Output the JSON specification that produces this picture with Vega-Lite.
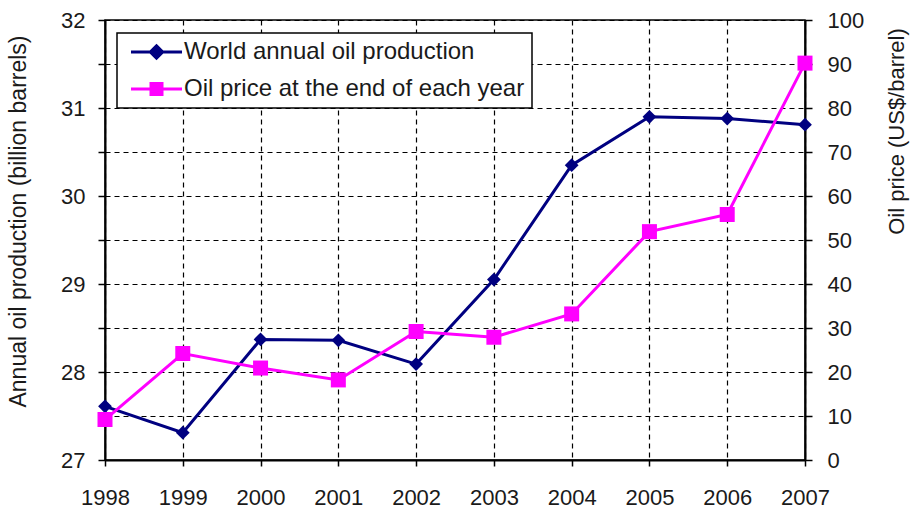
{
  "$schema": "https://vega.github.io/schema/vega-lite/v6.json",
  "width": 700,
  "height": 440,
  "autosize": {"type": "none"},
  "padding": {"left": 105, "top": 20, "right": 105, "bottom": 52},
  "background": "white",
  "config": {
    "font": "Liberation Sans",
    "view": {"stroke": "black", "strokeWidth": 1.5},
    "axis": {
      "domainColor": "black",
      "domainWidth": 2,
      "tickColor": "black",
      "tickWidth": 1.5,
      "tickSize": 7,
      "labelFontSize": 22,
      "labelColor": "#1a1a1a",
      "labelFont": "Liberation Sans",
      "titleFont": "Liberation Sans",
      "titleFontWeight": "normal",
      "titleColor": "#1a1a1a",
      "gridColor": "black",
      "gridOpacity": 1,
      "gridWidth": 1.2,
      "gridDash": [5, 4]
    }
  },
  "data": {
    "values": [
      {"year": 1998, "series": "World annual oil production", "value": 27.61},
      {"year": 1999, "series": "World annual oil production", "value": 27.31},
      {"year": 2000, "series": "World annual oil production", "value": 28.37},
      {"year": 2001, "series": "World annual oil production", "value": 28.36},
      {"year": 2002, "series": "World annual oil production", "value": 28.09},
      {"year": 2003, "series": "World annual oil production", "value": 29.05},
      {"year": 2004, "series": "World annual oil production", "value": 30.35},
      {"year": 2005, "series": "World annual oil production", "value": 30.9},
      {"year": 2006, "series": "World annual oil production", "value": 30.88},
      {"year": 2007, "series": "World annual oil production", "value": 30.81},
      {"year": 1998, "series": "Oil price at the end of each year", "value": 9.2},
      {"year": 1999, "series": "Oil price at the end of each year", "value": 24.2},
      {"year": 2000, "series": "Oil price at the end of each year", "value": 20.9},
      {"year": 2001, "series": "Oil price at the end of each year", "value": 18.2},
      {"year": 2002, "series": "Oil price at the end of each year", "value": 29.2},
      {"year": 2003, "series": "Oil price at the end of each year", "value": 27.9},
      {"year": 2004, "series": "Oil price at the end of each year", "value": 33.2},
      {"year": 2005, "series": "Oil price at the end of each year", "value": 51.9},
      {"year": 2006, "series": "Oil price at the end of each year", "value": 55.8},
      {"year": 2007, "series": "Oil price at the end of each year", "value": 90.2}
    ]
  },
  "encoding": {
    "x": {
      "field": "year",
      "type": "quantitative",
      "scale": {"domain": [1998, 2007], "nice": false, "zero": false},
      "axis": {
        "title": null,
        "values": [1998, 1999, 2000, 2001, 2002, 2003, 2004, 2005, 2006, 2007],
        "format": "d",
        "grid": true,
        "tickSize": 6,
        "labelPadding": 21,
        "labelFlush": false
      }
    },
    "color": {
      "field": "series",
      "type": "nominal",
      "scale": {
        "domain": ["World annual oil production", "Oil price at the end of each year"],
        "range": ["#000080", "#ff00ff"]
      },
      "legend": {
        "title": null,
        "orient": "none",
        "legendX": 12,
        "legendY": 13,
        "direction": "vertical",
        "fillColor": "white",
        "strokeColor": "black",
        "cornerRadius": 0,
        "padding": 7,
        "labelFontSize": 24,
        "labelFont": "Liberation Sans",
        "labelColor": "#1a1a1a",
        "labelLimit": 0,
        "labelOffset": 36,
        "symbolSize": 400,
        "rowPadding": 12,
        "encode": {
          "legend": {"update": {"strokeWidth": {"value": 1.5}}},
          "symbols": {
            "update": {
              "shape": {"signal": "datum.value === 'World annual oil production' ? 'M-0.5,0H4.6M2.05,-0.62L2.67,0L2.05,0.62L1.43,0Z' : 'M-0.5,0H4.6M1.5,-0.55H2.6V0.55H1.5Z'"},
              "fill": {"signal": "scale('color', datum.value)"},
              "stroke": {"signal": "scale('color', datum.value)"},
              "strokeWidth": {"value": 3},
              "opacity": {"value": 1}
            }
          }
        }
      }
    }
  },
  "layer": [
    {
      "transform": [{"filter": "datum.series === 'World annual oil production'"}],
      "encoding": {
        "y": {
          "field": "value",
          "type": "quantitative",
          "scale": {"domain": [27, 32], "nice": false, "zero": false},
          "axis": {
            "title": "Annual oil production (billion barrels)",
            "titleFontSize": 23,
            "titleAngle": 270,
            "titleBaseline": "bottom",
            "titleAlign": "center",
            "titleX": -75,
            "titleY": 201,
            "values": [27, 27.5, 28, 28.5, 29, 29.5, 30, 30.5, 31, 31.5, 32],
            "labelExpr": "datum.value % 1 === 0 ? '' + datum.value : ''",
            "labelPadding": 13,
            "grid": true
          }
        }
      },
      "layer": [
        {"mark": {"type": "line", "strokeWidth": 3}},
        {"mark": {"type": "point", "shape": "diamond", "filled": true, "size": 190, "opacity": 1}}
      ]
    },
    {
      "transform": [{"filter": "datum.series === 'Oil price at the end of each year'"}],
      "encoding": {
        "y": {
          "field": "value",
          "type": "quantitative",
          "scale": {"domain": [0, 100], "nice": false, "zero": true},
          "axis": {
            "orient": "right",
            "title": "Oil price (US$/barrel)",
            "titleFontSize": 22,
            "titleAngle": 270,
            "titleBaseline": "top",
            "titleAlign": "center",
            "titleX": 81,
            "titleY": 111,
            "values": [0, 10, 20, 30, 40, 50, 60, 70, 80, 90, 100],
            "labelPadding": 15,
            "grid": false
          }
        }
      },
      "layer": [
        {"mark": {"type": "line", "strokeWidth": 3}},
        {"mark": {"type": "point", "shape": "square", "filled": true, "size": 225, "opacity": 1}}
      ]
    }
  ],
  "resolve": {"scale": {"y": "independent"}}
}
